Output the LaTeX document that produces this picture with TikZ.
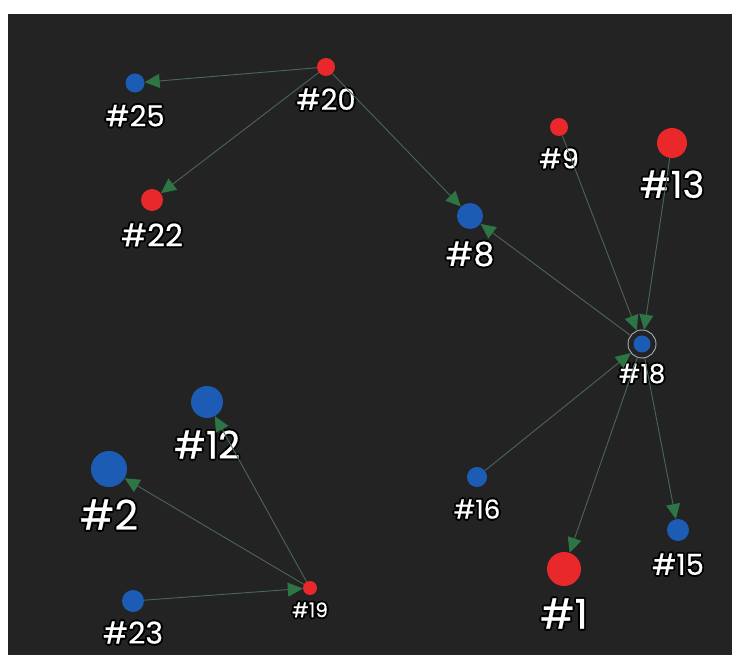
\documentclass[tikz,border=0pt]{standalone}
\usepackage{fontspec}
\setmainfont{Poppins}[FakeBold=0.5]
\usepackage{xcolor}
\usepackage{tikz}
\usepackage{contour}
\usetikzlibrary{arrows.meta}
\definecolor{netbg}{HTML}{232323}
\definecolor{netred}{HTML}{E8282B}
\definecolor{netblue}{HTML}{1D5CB4}
\definecolor{netedge}{HTML}{4B6654}
\definecolor{nettip}{HTML}{2E7545}
\definecolor{netring}{HTML}{A9AFB3}
\contourlength{1.8pt}

\begin{document}
\begin{tikzpicture}[x=1pt, y=-1pt,
    red/.style={circle, fill=netred, inner sep=0pt},
    blue/.style={circle, fill=netblue, inner sep=0pt},
    tag/.style={text=white, inner sep=1pt},
    link/.style={draw=netedge, line width=0.9pt, -{Triangle[length=15pt, width=14pt, color=nettip]}},
    label distance=11pt]
    \useasboundingbox (0,0) rectangle (732,655);
    \fill[white] (0,0) rectangle (732,655);
    \fill[netbg] (8,14) rectangle (732,655);
    % top left group
    \node[red, minimum size=18pt, label={[tag, font=\fontsize{29}{29}\selectfont]below:\contour{black}{\#20}}] (n20) at (326,67) {};
    \node[blue, minimum size=19pt, label={[tag, font=\fontsize{29}{29}\selectfont]below:\contour{black}{\#25}}] (n25) at (135,83) {};
    \node[red, minimum size=22pt, label={[tag, font=\fontsize{31}{31}\selectfont]below:\contour{black}{\#22}}] (n22) at (152,200) {};
    \node[blue, minimum size=26pt, label={[tag, font=\fontsize{33}{33}\selectfont]below:\contour{black}{\#8}}] (n8) at (470,216) {};
    % right group
    \node[red, minimum size=18pt, label={[tag, font=\fontsize{27}{27}\selectfont]below:\contour{black}{\#9}}] (n9) at (559,127) {};
    \node[red, minimum size=30pt, label={[tag, font=\fontsize{37}{37}\selectfont]below:\contour{black}{\#13}}] (n13) at (672,143) {};
    \node[circle, draw=netring, line width=0.9pt, minimum size=28pt, inner sep=0pt,
        path picture={\fill[netblue] (path picture bounding box.center) circle (8.5pt);},
        label={[tag, font=\fontsize{26}{26}\selectfont, label distance=4pt]below:\contour{black}{\#18}}] (n18) at (642,344) {};
    \node[blue, minimum size=20pt, label={[tag, font=\fontsize{26}{26}\selectfont]below:\contour{black}{\#16}}] (n16) at (477,477) {};
    \node[red, minimum size=34pt, label={[tag, font=\fontsize{41}{41}\selectfont]below:\contour{black}{\#1}}] (n1) at (564,569) {};
    \node[blue, minimum size=22pt, label={[tag, font=\fontsize{29}{29}\selectfont]below:\contour{black}{\#15}}] (n15) at (678,530) {};
    % bottom left group
    \node[blue, minimum size=32pt, label={[tag, font=\fontsize{38}{38}\selectfont]below:\contour{black}{\#12}}] (n12) at (207,402) {};
    \node[blue, minimum size=36pt, label={[tag, font=\fontsize{41}{41}\selectfont]below:\contour{black}{\#2}}] (n2) at (109,469) {};
    \node[blue, minimum size=22pt, label={[tag, font=\fontsize{30}{30}\selectfont, label distance=8pt]below:\contour{black}{\#23}}] (n23) at (133,601) {};
    \node[red, minimum size=14pt, label={[tag, font=\fontsize{20}{20}\selectfont, label distance=6pt]below:\contour{black}{\#19}}] (n19) at (310,588) {};
    % links
    \draw[link] (n20) -- (n25);
    \draw[link] (n20) -- (n22);
    \draw[link] (n20) -- (n8);
    \draw[link] (n18) -- (n8);
    \draw[link] (n9) -- (n18);
    \draw[link] (n13) -- (n18);
    \draw[link] (n16) -- (n18);
    \draw[link] (n18) -- (n1);
    \draw[link] (n18) -- (n15);
    \draw[link] (n19) -- (n12);
    \draw[link] (n19) -- (n2);
    \draw[link] (n23) -- (n19);
\end{tikzpicture}
\end{document}
